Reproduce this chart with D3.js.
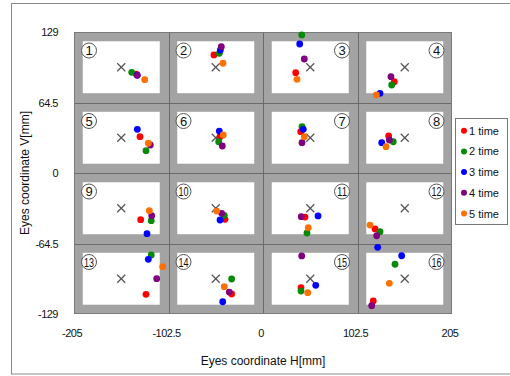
<!DOCTYPE html>
<html><head><meta charset="utf-8">
<script src="https://cdn.jsdelivr.net/npm/d3@7"></script>
<style>
html,body{margin:0;padding:0;background:#fff;}
svg{display:block;font-family:"Liberation Sans",Arial,sans-serif;}
</style></head>
<body><svg id="c" width="510" height="376"></svg>
<script>
// ---------- data ----------
const cells = [1,2,3,4,5,6,7,8,9,10,11,12,13,14,15,16];
const targetH = [-153.75,-51.25,51.25,153.75,-153.75,-51.25,51.25,153.75,-153.75,-51.25,51.25,153.75,-153.75,-51.25,51.25,153.75];
const targetV = [96.75,96.75,96.75,96.75,32.25,32.25,32.25,32.25,-32.25,-32.25,-32.25,-32.25,-96.75,-96.75,-96.75,-96.75];
const seriesNames = ["1 time","2 time","3 time","4 time","5 time"];
const seriesColors = ["#ff0000","#078a07","#0000ff","#800080","#ff7000"];
const time1H = [-137.5,-53.2,35.5,142.4,-133.4,-46.6,40.9,136.3,-132.7,-41.2,45.6,121.5,-126.9,-34.0,41.2,119.6];
const time1V = [90.5,108.0,91.8,83.5,33.2,33.2,37.8,33.9,-42.7,-42.4,-40.3,-51.2,-111.0,-110.7,-104.9,-117.1];
const time2H = [-142.4,-47.4,42.0,139.6,-126.9,-48.1,42.3,141.3,-121.2,-42.0,47.7,126.9,-121.2,-34.0,41.2,143.2];
const time2V = [92.1,109.5,126.3,80.5,20.4,28.6,42.4,28.6,-43.6,-38.7,-54.9,-53.7,-75.0,-97.0,-108.0,-83.5];
const time3H = [-136.5,-46.3,39.8,126.9,-136.3,-47.4,43.7,128.8,-125.8,-46.6,59.7,124.4,-124.4,-43.7,57.2,150.4];
const time3V = [89.6,112.5,118.0,72.9,40.0,38.4,40.0,27.7,-55.5,-43.0,-39.3,-68.0,-79.0,-117.8,-102.8,-75.7];
const time4H = [-136.3,-45.2,44.8,138.8,-122.2,-44.1,42.3,137.0,-120.7,-44.8,41.5,123.3,-115.3,-36.6,42.0,117.9];
const time4V = [89.4,115.6,104.3,88.1,25.6,24.7,27.7,30.2,-39.1,-36.9,-40.0,-57.4,-96.7,-108.9,-75.9,-121.4];
const time5H = [-128.3,-43.4,36.9,122.9,-124.4,-43.1,44.8,133.4,-123.3,-50.2,49.1,116.1,-108.8,-42.0,48.5,137.0];
const time5V = [85.4,100.4,85.7,71.4,27.2,34.8,33.2,24.1,-34.5,-34.8,-50.0,-47.6,-85.7,-104.0,-109.5,-100.9];
const xTicks = [-205,-102.5,0,102.5,205];
const yTicks = [-129,-64.5,0,64.5,129];
const xTitle = "Eyes coordinate H[mm]";
const yTitle = "Eyes coordinate V[mm]";

const seriesH = [time1H,time2H,time3H,time4H,time5H];
const seriesV = [time1V,time2V,time3V,time4V,time5V];

// ---------- layout ----------
const svg = d3.select("#c");
const x = d3.scaleLinear().domain([-205,205]).range([74,452]);
const y = d3.scaleLinear().domain([-129,129]).range([314,32]);

// outer frame
svg.append("rect").attr("x",11.5).attr("y",3.5).attr("width",520).attr("height",370.5)
  .attr("fill","none").attr("stroke","#8a8a8a").attr("stroke-width",1);

// plot background
svg.append("rect").attr("x",x(-205)).attr("y",y(129)).attr("width",x(205)-x(-205)).attr("height",y(-129)-y(129))
  .attr("fill","#a3a3a3");

// white cells
const cw = 102.5, ch = 64.5, insX = 9.5, insY = 8.5;
svg.append("g").selectAll("rect").data(cells).join("rect")
  .attr("x",(d,i)=>x(-205 + (i%4)*cw + insX))
  .attr("y",(d,i)=>y(129 - Math.floor(i/4)*ch - insY))
  .attr("width",x(cw-2*insX)-x(0))
  .attr("height",y(0)-y(ch-2*insY))
  .attr("fill","#fff");

// grid lines
const g = svg.append("g").attr("stroke","#6a6a6a").attr("stroke-width",1);
[-102.5,0,102.5].forEach(v=>{
  g.append("line").attr("x1",Math.round(x(v))+0.5).attr("x2",Math.round(x(v))+0.5).attr("y1",y(129)).attr("y2",y(-129));
});
[-64.5,0,64.5].forEach(v=>{
  g.append("line").attr("y1",Math.round(y(v))+0.5).attr("y2",Math.round(y(v))+0.5).attr("x1",x(-205)).attr("x2",x(205));
});
svg.append("rect").attr("x",x(-205)+0.5).attr("y",y(129)+0.5).attr("width",x(205)-x(-205)-1).attr("height",y(-129)-y(129)-1)
  .attr("fill","none").attr("stroke","#7a7a7a");

// circled cell numbers
const lab = svg.append("g");
cells.forEach((c,i)=>{
  const col = i%4, row = Math.floor(i/4);
  const cx = col<2 ? x(-205+col*cw)+15 : x(-205+(col+1)*cw)-15.5;
  const cy = y(129-row*ch)+18.5;
  lab.append("circle").attr("cx",cx).attr("cy",cy).attr("r",7.5)
    .attr("fill","#fff").attr("stroke","#555").attr("stroke-width",1);
  const t = lab.append("text").attr("x",cx).attr("y",cy+4.5).attr("text-anchor","middle")
    .attr("font-size",13).attr("fill","#111").text(c);
  if (c>=10) t.attr("textLength",10).attr("lengthAdjust","spacingAndGlyphs").attr("font-size",12);
});

// targets (X)
const xs = 4;
const tg = svg.append("g").attr("stroke","#555").attr("stroke-width",1.3);
cells.forEach((c,i)=>{
  const px = x(targetH[i]), py = y(targetV[i]);
  tg.append("line").attr("x1",px-xs).attr("y1",py-xs).attr("x2",px+xs).attr("y2",py+xs);
  tg.append("line").attr("x1",px-xs).attr("y1",py+xs).attr("x2",px+xs).attr("y2",py-xs);
});

// points
seriesH.forEach((arr,s)=>{
  svg.append("g").selectAll("circle").data(cells).join("circle")
    .attr("cx",(d,i)=>x(arr[i])).attr("cy",(d,i)=>y(seriesV[s][i]))
    .attr("r",3.4).attr("fill",seriesColors[s]);
});

// tick labels
svg.append("g").selectAll("text").data(yTicks).join("text")
  .attr("x",58).attr("y",d=>y(d)+4).attr("text-anchor","end")
  .attr("font-size",11).attr("letter-spacing",-0.5).attr("fill","#111").text(d=>String(d));
svg.append("g").selectAll("text").data(xTicks).join("text")
  .attr("x",d=>x(d)-2).attr("y",337).attr("text-anchor","middle")
  .attr("font-size",11).attr("letter-spacing",-0.5).attr("fill","#111").text(d=>String(d));

// axis titles
svg.append("text").attr("x",263).attr("y",365).attr("text-anchor","middle")
  .attr("font-size",12).attr("fill","#111").text(xTitle);
svg.append("text").attr("transform","translate(29,173) rotate(-90)").attr("text-anchor","middle")
  .attr("font-size",12).attr("fill","#111").text(yTitle);

// legend
svg.append("rect").attr("x",455.5).attr("y",118.5).attr("width",52).attr("height",106)
  .attr("fill","#fff").attr("stroke","#777");
const lg = svg.append("g");
seriesNames.forEach((n,i)=>{
  const ly = 130.7 + i*20.7;
  lg.append("circle").attr("cx",464).attr("cy",ly).attr("r",3).attr("fill",seriesColors[i]);
  lg.append("text").attr("x",469).attr("y",ly+4).attr("font-size",11).attr("fill","#111").text(n);
});
</script>
</body></html>
